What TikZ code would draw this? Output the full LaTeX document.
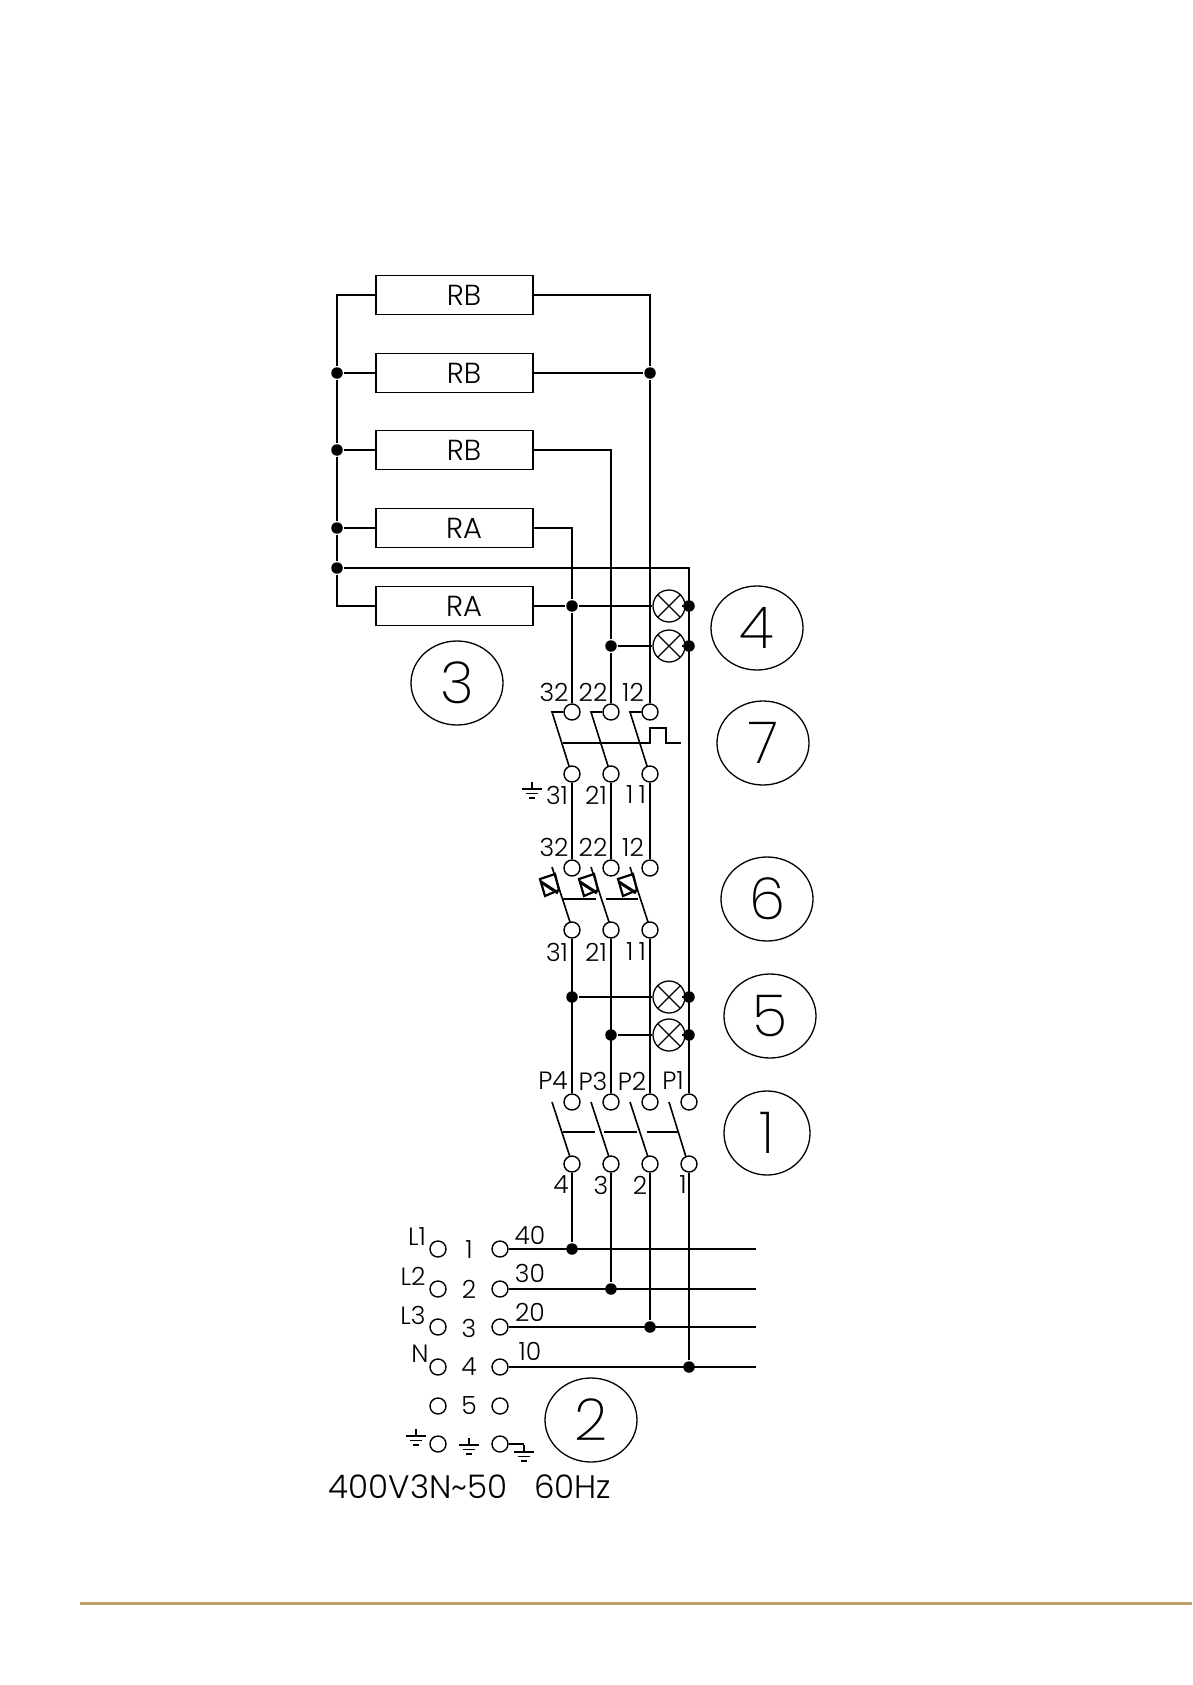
\documentclass[tikz,border=0pt]{standalone}
\usepackage{fontspec}
\setmainfont{Poppins Light}
\newfontfamily\calloutfont{Poppins ExtraLight}
\usetikzlibrary{shapes.geometric}
\definecolor{rulecolor}{HTML}{C0A066}
\tikzset{
  resistor/.style={rectangle,draw,minimum width=157,minimum height=39,inner sep=0,font=\fontsize{29}{29}\selectfont},
  term/.style={circle,draw,minimum size=16,inner sep=0,line width=1.4,fill=white},
  junction/.style={circle,fill,minimum size=11.5,inner sep=0},
  lamp/.style={circle,draw,minimum size=32,inner sep=0,line width=1.3,path picture={
    \draw (path picture bounding box.center) ++(45:16) -- ++(225:32);
    \draw (path picture bounding box.center) ++(135:16) -- ++(315:32);}},
  callout/.style={ellipse,draw,minimum width=92,minimum height=84,inner sep=0,line width=1.3,font=\calloutfont\fontsize{58}{58}\selectfont},
  lab/.style={inner sep=0,font=\fontsize{25}{25}\selectfont},
  wire/.style={line width=1.8},
  groundsym/.pic={
    \draw[line width=1.5] (0,0) -- (0,7) (-10,7) -- (10,7) (-6,11.5) -- (6,11.5) (-3,16) -- (3,16);},
  coilsym/.pic={
    \draw[line width=2.2] (0,0) -- (15,-5) -- (19,11) -- (5,17) -- cycle;
    \draw[line width=3] (1,3) -- (18,14);}
}
\begin{document}
\begin{tikzpicture}[x=1pt,y=-1pt,line width=1.6]
\useasboundingbox (0,0) rectangle (1192,1685);

% resistors
\node[resistor] at (454.5,295) (rb1) {\hspace*{19pt}RB};
\node[resistor] at (454.5,373) (rb2) {\hspace*{19pt}RB};
\node[resistor] at (454.5,450) (rb3) {\hspace*{19pt}RB};
\node[resistor] at (454.5,528) (ra1) {\hspace*{19pt}RA};
\node[resistor] at (454.5,606) (ra2) {\hspace*{19pt}RA};

% junctions
\node[junction] at (337,373) (jl1) {};
\node[junction] at (337,450) (jl2) {};
\node[junction] at (337,528) (jl3) {};
\node[junction] at (337,568) (jl4) {};
\node[junction] at (650,373) (jc) {};
\node[junction] at (572,606) (ja1) {};
\node[junction] at (611,646) (jb1) {};
\node[junction] at (689,606) (jd1) {};
\node[junction] at (689,646) (jd2) {};
\node[junction] at (572,997) (ja2) {};
\node[junction] at (611,1035) (jb2) {};
\node[junction] at (689,997) (jd3) {};
\node[junction] at (689,1035) (jd4) {};
\node[junction] at (572,1249) (ja3) {};
\node[junction] at (611,1289) (jb3) {};
\node[junction] at (650,1327) (jc3) {};
\node[junction] at (689,1367) (jd5) {};

% lamps
\node[lamp] at (669,606) (la1) {};
\node[lamp] at (669,646) (la2) {};
\node[lamp] at (669,997) (la3) {};
\node[lamp] at (669,1035) (la4) {};

% contacts, top to bottom
\node[term] at (572,712) (a1) {};
\node[term] at (611,712) (b1) {};
\node[term] at (650,712) (c1) {};
\node[term] at (572,774) (a2) {};
\node[term] at (611,774) (b2) {};
\node[term] at (650,774) (c2) {};
\node[term] at (572,868) (a3) {};
\node[term] at (611,868) (b3) {};
\node[term] at (650,868) (c3) {};
\node[term] at (572,930) (a4) {};
\node[term] at (611,930) (b4) {};
\node[term] at (650,930) (c4) {};
\node[term] at (572,1102) (a5) {};
\node[term] at (611,1102) (b5) {};
\node[term] at (650,1102) (c5) {};
\node[term] at (689,1102) (d5) {};
\node[term] at (572,1164) (a6) {};
\node[term] at (611,1164) (b6) {};
\node[term] at (650,1164) (c6) {};
\node[term] at (689,1164) (d6) {};

% terminal block
\node[term] at (438,1249) (l1) {};
\node[term] at (438,1289) (l2) {};
\node[term] at (438,1327) (l3) {};
\node[term] at (438,1367) (l4) {};
\node[term] at (438,1406) (l5) {};
\node[term] at (438,1444) (l6) {};
\node[term] at (500,1249) (r1) {};
\node[term] at (500,1289) (r2) {};
\node[term] at (500,1327) (r3) {};
\node[term] at (500,1367) (r4) {};
\node[term] at (500,1406) (r5) {};
\node[term] at (500,1444) (r6) {};
\coordinate (e1) at (756,1249);
\coordinate (e2) at (756,1289);
\coordinate (e3) at (756,1327);
\coordinate (e4) at (756,1367);
\coordinate (e6) at (524,1444);

% wiring
\draw[wire] (rb1.west) -| (jl1);
\draw[wire] (jl1) -- (jl2);
\draw[wire] (jl2) -- (jl3);
\draw[wire] (jl3) -- (jl4);
\draw[wire] (jl4) |- (ra2.west);
\draw[wire] (jl1) -- (rb2.west);
\draw[wire] (jl2) -- (rb3.west);
\draw[wire] (jl3) -- (ra1.west);
\draw[wire] (jl4) -| (d5);
\draw[wire] (rb1.east) -| (jc);
\draw[wire] (rb2.east) -- (jc);
\draw[wire] (jc) -- (c1);
\draw[wire] (rb3.east) -| (jb1);
\draw[wire] (jb1) -- (b1);
\draw[wire] (ra1.east) -| (ja1);
\draw[wire] (ja1) -- (a1);
\draw[wire] (ra2.east) -- (ja1);
\draw[wire] (ja1) -- (la1);
\draw[wire] (jb1) -- (la2);
\draw[wire] (la1) -- (jd1);
\draw[wire] (la2) -- (jd2);
\draw[wire] (a2) -- (a3);
\draw[wire] (b2) -- (b3);
\draw[wire] (c2) -- (c3);
\draw[wire] (a4) -- (a5);
\draw[wire] (b4) -- (b5);
\draw[wire] (c4) -- (c5);
\draw[wire] (ja2) -- (la3);
\draw[wire] (jb2) -- (la4);
\draw[wire] (la3) -- (jd3);
\draw[wire] (la4) -- (jd4);
\draw[wire] (a6) -- (ja3);
\draw[wire] (b6) -- (jb3);
\draw[wire] (c6) -- (jc3);
\draw[wire] (d6) -- (jd5);
\draw[wire] (r1) -- (e1);
\draw[wire] (r2) -- (e2);
\draw[wire] (r3) -- (e3);
\draw[wire] (r4) -- (e4);
\draw[wire] (r6) -- (e6);

% switch 7
\draw (a1) -- (552,712) -- (569,766);
\draw (b1) -- (591,712) -- (608,766);
\draw (c1) -- (630,712) -- (647,766);
\draw (563,743) -- (650,743) -- (650,728) -- (666,728) -- (666,743) -- (681,743);

% switch 6
\draw (552,867) -- (570,922);
\draw (591,867) -- (609,922);
\draw (630,867) -- (648,922);
\draw (563,899) -- (596,899);
\draw (606,899) -- (638,899);
\pic at (540,879) {coilsym};
\pic at (579,879) {coilsym};
\pic at (618,879) {coilsym};

% switch 1
\draw (552,1102) -- (570,1157);
\draw (591,1102) -- (609,1157);
\draw (630,1102) -- (648,1157);
\draw (669,1102) -- (686,1157);
\draw (563,1132) -- (595,1132);
\draw (604,1132) -- (637,1132);
\draw (647,1132) -- (678,1132);

% earth marks
\pic at (532,782) {groundsym};
\pic at (416,1429) {groundsym};
\pic at (469,1438) {groundsym};
\pic at (524,1445) {groundsym};

% contact labels
\node[lab] at (554,692) (n32a) {32};
\node[lab] at (593,692) (n22a) {22};
\node[lab] at (633,692) (n12a) {12};
\node[lab] at (557,795) (n31a) {31};
\node[lab] at (596,795) (n21a) {21};
\node[lab] at (636,795) (n11a) {1\hspace{5pt}1};
\node[lab] at (554,847) (n32b) {32};
\node[lab] at (593,847) (n22b) {22};
\node[lab] at (633,847) (n12b) {12};
\node[lab] at (557,952) (n31b) {31};
\node[lab] at (596,952) (n21b) {21};
\node[lab] at (636,952) (n11b) {1\hspace{5pt}1};
\node[lab] at (553,1081) (np4) {P4};
\node[lab] at (593,1081) (np3) {P3};
\node[lab] at (632,1081) (np2) {P2};
\node[lab] at (673,1081) (np1) {P1};
\node[lab] at (561,1185) (n4) {4};
\node[lab] at (601,1185) (n3) {3};
\node[lab] at (640,1185) (n2) {2};
\node[lab] at (683,1185) (n1) {1};

% terminal block labels
\node[lab] at (417,1237) (nl1) {L1};
\node[lab] at (413,1276) (nl2) {L2};
\node[lab] at (413,1315) (nl3) {L3};
\node[lab] at (420,1354) (nn) {N};
\node[lab] at (469,1250) (m1) {1};
\node[lab] at (469,1289) (m2) {2};
\node[lab] at (469,1328) (m3) {3};
\node[lab] at (469,1367) (m4) {4};
\node[lab] at (469,1406) (m5) {5};
\node[lab] at (530,1235) (n40) {40};
\node[lab] at (530,1273) (n30) {30};
\node[lab] at (530,1312) (n20) {20};
\node[lab] at (530,1351) (n10) {10};
\node[inner sep=0,anchor=west,font=\fontsize{32.5}{32.5}\selectfont] at (328,1487) (supply) {400V3N\textasciitilde 50\hspace{27pt}60Hz};

% numbered callouts
\node[callout,minimum width=86] at (767,1133) (k1) {1};
\node[callout] at (591,1420) (k2) {2};
\node[callout] at (457,683) (k3) {3};
\node[callout] at (757,628) (k4) {4};
\node[callout] at (770,1016) (k5) {5};
\node[callout] at (767,899) (k6) {6};
\node[callout] at (763,743) (k7) {7};

% footer rule
\coordinate (fl) at (80,1603.5);
\coordinate (fr) at (1192,1603.5);
\draw[rulecolor,line width=3] (fl) -- (fr);
\end{tikzpicture}
\end{document}
